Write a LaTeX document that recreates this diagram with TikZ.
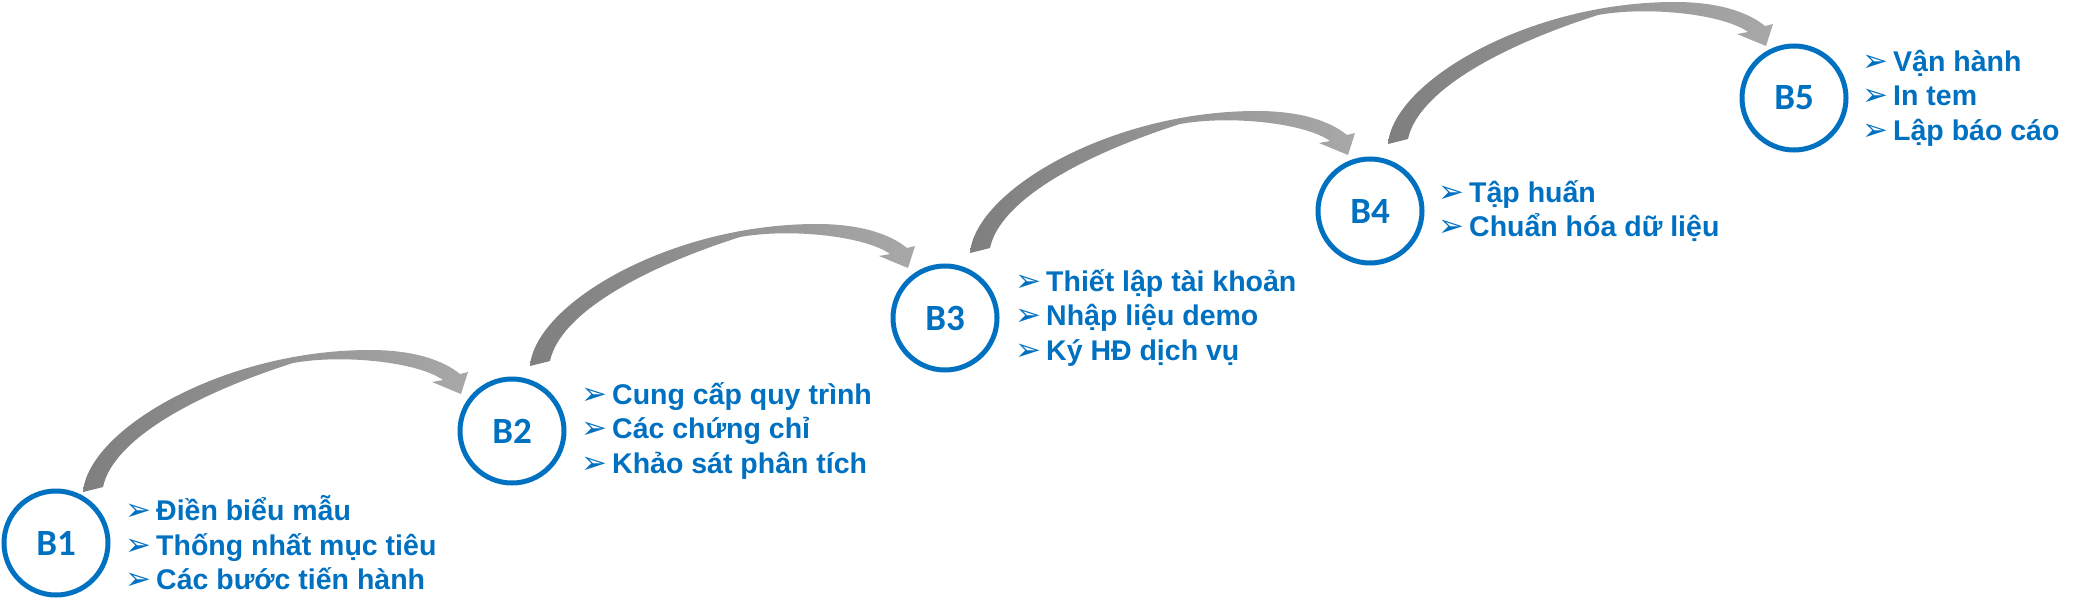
\documentclass[tikz,border=0pt]{standalone}
\usepackage{fontspec}
\setmainfont{Liberation Sans}
\newfontfamily\labfont{Carlito}
\newfontfamily\symfont{DejaVu Sans}
\definecolor{stepblue}{HTML}{0070C0}
\definecolor{arrdark}{HTML}{7F7F7F}
\definecolor{arrmid}{HTML}{999999}
\definecolor{arrlight}{HTML}{A8A8A8}
\usetikzlibrary{calc}
\newcommand\bul{{\symfont\fontsize{31}{31}\selectfont ➢}\hspace{5pt}}
\begin{document}
\begin{tikzpicture}[x=1pt,y=-1pt,
  stepcircle/.style={circle, draw=stepblue, line width=5pt, minimum size=104pt,
    inner sep=0pt, text=stepblue, font=\labfont\bfseries\fontsize{37}{37}\selectfont},
  steplist/.style={anchor=west, align=left, inner sep=0pt, text=stepblue,
    font=\bfseries\fontsize{28.5}{34.5}\selectfont},
  steparrow/.pic={
    \shade[left color=arrdark, middle color=arrmid, right color=arrlight]
      (-10,2) .. controls (-5,-60) and (130,-140) .. (277,-140)
      .. controls (320,-140) and (350,-130) .. (367,-116)
      -- (375,-118) -- (368,-96) -- (339,-108) -- (350,-110)
      .. controls (325,-128) and (250,-136) .. (200,-127)
      .. controls (100,-95) and (20,-50) .. (10,-3) -- cycle;
  }]
\useasboundingbox (0,0) rectangle (2078,615);

\node[stepcircle] (b1) at (56,543) {B1};
\node[stepcircle] (b2) at (512,431) {B2};
\node[stepcircle] (b3) at (945,318) {B3};
\node[stepcircle] (b4) at (1370,211) {B4};
\node[stepcircle] (b5) at (1794,98) {B5};

\path ($(b1.center)+(37,-53)$) pic {steparrow};
\path ($(b2.center)+(28,-67)$) pic {steparrow};
\path ($(b3.center)+(35,-67)$) pic {steparrow};
\path ($(b4.center)+(28,-69)$) pic {steparrow};

\node[steplist] (t1) at (125,543) {\bul Điền biểu mẫu\\ \bul Thống nhất mục tiêu\\ \bul Các bước tiến hành};
\node[steplist] (t2) at (581,431) {\bul Cung cấp quy trình\\ \bul Các chứng chỉ\\ \bul Khảo sát phân tích};
\node[steplist] (t3) at (1015,318) {\bul Thiết lập tài khoản\\ \bul Nhập liệu demo\\ \bul Ký HĐ dịch vụ};
\node[steplist] (t4) at (1438,211) {\bul Tập huấn\\ \bul Chuẩn hóa dữ liệu};
\node[steplist] (t5) at (1862,98) {\bul Vận hành\\ \bul In tem\\ \bul Lập báo cáo};
\end{tikzpicture}
\end{document}
